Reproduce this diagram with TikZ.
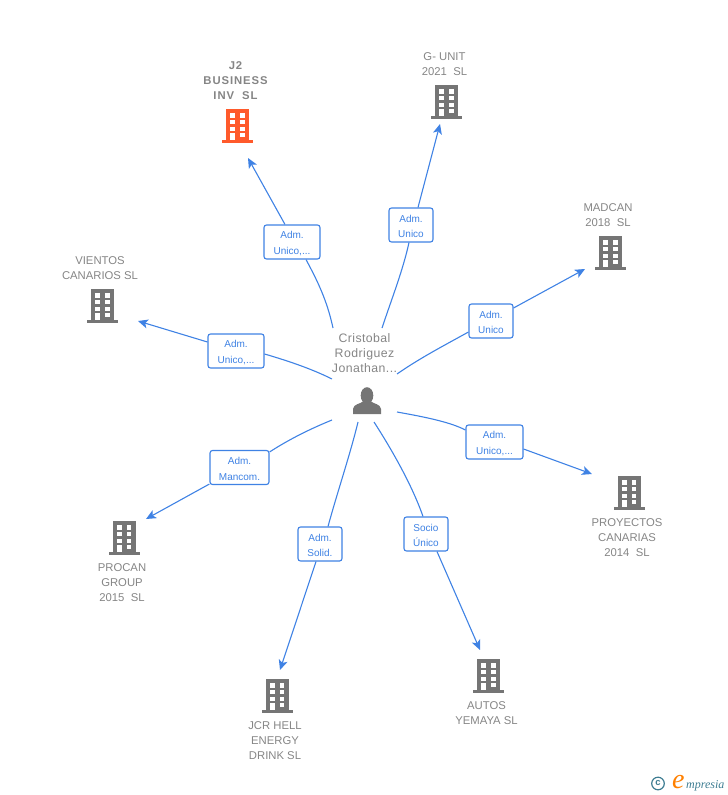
\documentclass[tikz,border=0pt]{standalone}
\usepackage{fontspec}
\setmainfont{Liberation Sans}
\newfontfamily\logofont{Liberation Serif}
\newfontfamily\widebold[LetterSpace=8,BoldFont={Liberation Sans Bold}]{Liberation Sans}
\newfontfamily\widereg[LetterSpace=3.5]{Liberation Sans}
\usetikzlibrary{arrows.meta}
\definecolor{linkblue}{HTML}{3F82E4}
\definecolor{bgray}{HTML}{757575}
\definecolor{tgray}{HTML}{858585}
\definecolor{borange}{HTML}{FF5A2B}
\definecolor{logoteal}{HTML}{3E7D92}
\newcommand{\bldg}[4]{% name, cx, ytop, colour
  \node[inner sep=0pt,minimum width=32pt,minimum height=34pt] (#1) at (#2,#3+17) {};
  \begin{scope}[shift={(#2,#3)}]
    \fill[#4] (-11.5,0) rectangle (11.5,31);
    \fill[#4] (-15.5,31) rectangle (15.5,34);
    \fill[white] (-7.5,4) rectangle (-2.5,8.5);
    \fill[white] (2.5,4) rectangle (7,8.5);
    \fill[white] (-7.5,11) rectangle (-2.5,15);
    \fill[white] (2.5,11) rectangle (7,15);
    \fill[white] (-7.5,17.5) rectangle (-2.5,21.5);
    \fill[white] (2.5,17.5) rectangle (7,21.5);
    \fill[white] (-7.5,24) rectangle (-2.5,31);
    \fill[white] (2.5,24) rectangle (7,28);
  \end{scope}}
\newcommand{\relup}{\rule{0pt}{10pt}}
\begin{document}
\begin{tikzpicture}[x=1pt,y=-1pt,
  link/.style={draw=linkblue,line width=1.1pt},
  arrowlink/.style={link,-{Stealth[length=10pt,width=9pt,inset=2.5pt]}},
  rel/.style={draw=linkblue,line width=1.1pt,rounded corners=2.5pt,fill=white,
     minimum height=34pt,inner sep=0pt,align=center,text=linkblue,
     font=\fontsize{10}{15.5}\selectfont},
  cname/.style={align=center,text=tgray,inner sep=0pt,font=\fontsize{11.3}{15}\selectfont},
]
\useasboundingbox (0,0) rectangle (728,795);

% centre
\node[cname,font=\widereg\fontsize{12.3}{15}\selectfont] (ct) at (364.5,353) {Cristobal\\Rodriguez\\Jonathan...};
\node[inner sep=0pt,minimum width=30pt,minimum height=30pt] (person) at (367,400) {};
\fill[bgray] (367,395.5) ellipse (6.3 and 8.3);
\fill[bgray] (353,414) -- (353,409) .. controls (353.5,404) and (360,404) .. (363,401.5)
  -- (371,401.5) .. controls (374,404) and (380.5,404) .. (381,409) -- (381,414) -- cycle;

% buildings
\bldg{b1}{237.5}{109}{borange}
\bldg{b2}{446.5}{85}{bgray}
\bldg{b3}{610.5}{236}{bgray}
\bldg{b4}{102.5}{289}{bgray}
\bldg{b5}{629}{476}{bgray}
\bldg{b6}{124}{521}{bgray}
\bldg{b7}{488.5}{659}{bgray}
\bldg{b8}{277}{679}{bgray}

% names
\node[cname,font=\widebold\fontsize{11.3}{15}\selectfont\bfseries,anchor=south] (n1) at (235.5,100) {J2\\BUSINESS\\INV\ \ SL};
\node[cname,anchor=south] (n2) at (444.5,76) {G- UNIT\\2021\ \ SL};
\node[cname,anchor=south] (n3) at (608,227) {MADCAN\\2018\ \ SL};
\node[cname,anchor=south] (n4) at (100,280) {VIENTOS\\CANARIOS SL};
\node[cname,anchor=north] (n5) at (627,518) {PROYECTOS\\CANARIAS\\2014\ \ SL};
\node[cname,anchor=north] (n6) at (122,563) {PROCAN\\GROUP\\2015\ \ SL};
\node[cname,anchor=north] (n7) at (486.5,701) {AUTOS\\YEMAYA SL};
\node[cname,anchor=north] (n8) at (275,721) {JCR HELL\\ENERGY\\DRINK SL};

% relation labels
\node[rel,minimum width=56pt] (r1) at (292,242) {\relup Adm.\\Unico,...};
\node[rel,minimum width=44pt] (r2) at (411,225) {\relup Adm.\\Unico};
\node[rel,minimum width=44pt] (r3) at (491,321) {\relup Adm.\\Unico};
\node[rel,minimum width=56pt] (r4) at (236,351) {\relup Adm.\\Unico,...};
\node[rel,minimum width=57pt] (r5) at (494.5,442) {\relup Adm.\\Unico,...};
\node[rel,minimum width=59pt] (r6) at (239.5,467.5) {\relup Adm.\\Mancom.};
\node[rel,minimum width=44pt] (r7) at (426,534) {\relup Socio\\Único};
\node[rel,minimum width=44pt] (r8) at (320,544) {\relup Adm.\\Solid.};

% free ends
\coordinate (s1) at (333,328); \coordinate (t1) at (248,158);
\coordinate (s2) at (382,328); \coordinate (t2) at (440,124);
\coordinate (s3) at (397,374); \coordinate (t3) at (585,269);
\coordinate (s4) at (332,379); \coordinate (t4) at (138,321);
\coordinate (s5) at (397,412); \coordinate (t5) at (592,474);
\coordinate (s6) at (332,420); \coordinate (t6) at (146,519);
\coordinate (s7) at (374,422); \coordinate (t7) at (480,650);
\coordinate (s8) at (358,422); \coordinate (t8) at (280,670);

% connectors
\draw[link] (s1) .. controls (327,300) and (317,280) .. (r1.south -| 306,259);
\draw[arrowlink] (r1.north -| 285,225) -- (t1);
\draw[link] (s2) .. controls (392,298) and (403,270) .. (r2.south -| 409,242);
\draw[arrowlink] (r2.north -| 418,208) -- (t2);
\draw[link] (s3) .. controls (420,358) and (445,345) .. (r3.west |- 0,332);
\draw[arrowlink] (r3.east |- 0,308) -- (t3);
\draw[link] (s4) .. controls (310,368) and (285,360) .. (r4.east |- 0,354);
\draw[arrowlink] (r4.west |- 0,342) -- (t4);
\draw[link] (s5) .. controls (425,417) and (450,422) .. (r5.west |- 0,430);
\draw[arrowlink] (r5.east |- 0,449) -- (t5);
\draw[link] (s6) .. controls (305,431) and (285,442) .. (r6.east |- 0,452);
\draw[arrowlink] (r6.west |- 0,484) -- (t6);
\draw[link] (s7) .. controls (392,450) and (412,485) .. (r7.north -| 423,517);
\draw[arrowlink] (r7.south -| 437,551) -- (t7);
\draw[link] (s8) .. controls (350,455) and (338,490) .. (r8.north -| 328,527);
\draw[arrowlink] (r8.south -| 316,561) -- (t8);

% logo
\draw[logoteal,line width=1.2pt] (658,783.5) circle (6.3);
\node[inner sep=0pt,text=logoteal,font=\fontsize{9.5}{9.5}\selectfont\bfseries] (lc) at (658,783) {c};
\node[inner sep=0pt,text=orange,font=\logofont\itshape\fontsize{28}{28}\selectfont,anchor=base west] (le) at (672,788.5) {e};
\node[inner sep=0pt,text=logoteal,font=\logofont\itshape\fontsize{12}{12}\selectfont,anchor=base west] (lt) at (686,788) {mpresia};
\end{tikzpicture}
\end{document}
